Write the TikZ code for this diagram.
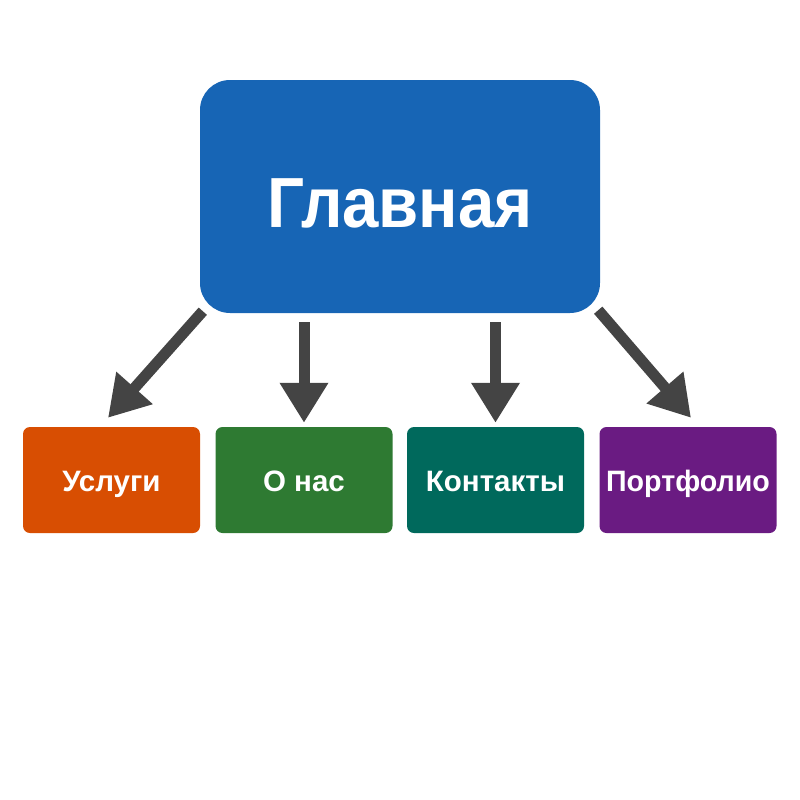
\documentclass[tikz,border=0pt]{standalone}
\usepackage{fontspec}
\setmainfont{Liberation Sans}
\usetikzlibrary{arrows.meta}
\definecolor{mainblue}{HTML}{1765B5}
\definecolor{corange}{HTML}{D84E02}
\definecolor{cgreen}{HTML}{2E7A32}
\definecolor{cteal}{HTML}{00695C}
\definecolor{cpurple}{HTML}{6A1B82}
\definecolor{arrgray}{HTML}{444444}
\begin{document}
\begin{tikzpicture}[x=1pt,y=-1pt,
  mainbox/.style={fill=mainblue, rounded corners=30pt, minimum width=400pt, minimum height=233pt, inner sep=0pt, text=white, font=\fontsize{71}{71}\selectfont\bfseries},
  subbox/.style={rounded corners=7pt, minimum width=177pt, minimum height=106pt, inner sep=0pt, text=white, text height=23pt, text depth=-2pt, font=\fontsize{29.5}{29.5}\selectfont\bfseries},
  arr/.style={draw=arrgray, line width=11pt, -{Triangle[width=46pt,length=40pt]}}]
\useasboundingbox (0,0) rectangle (800,800);
\node[mainbox] (main) at (400,196.5) {};
\node[text=white, font=\fontsize{71}{71}\selectfont\bfseries, anchor=base] (maintext) at (400,227) {\scalebox{0.92}[1]{Главная}};
\node[subbox, fill=corange] (b1) at (111.5,480) {Услуги};
\node[subbox, fill=cgreen] (b2) at (304,480) {О нас};
\node[subbox, fill=cteal] (b3) at (495.5,480) {Контакты};
\node[subbox, fill=cpurple] (b4) at (688,480) {\scalebox{0.97}[1]{Портфолио}};
\draw[arr] ([xshift=3pt,yshift=2pt]main.south west) -- ([xshift=-3.5pt,yshift=9pt]b1.north);
\draw[arr, shorten <=9pt, shorten >=4pt] (main.south -| b2.north) -- (b2.north);
\draw[arr, shorten <=9pt, shorten >=4pt] (main.south -| b3.north) -- (b3.north);
\draw[arr] ([xshift=-2pt,yshift=3pt]main.south east) -- ([xshift=3pt,yshift=9pt]b4.north);
\end{tikzpicture}
\end{document}
